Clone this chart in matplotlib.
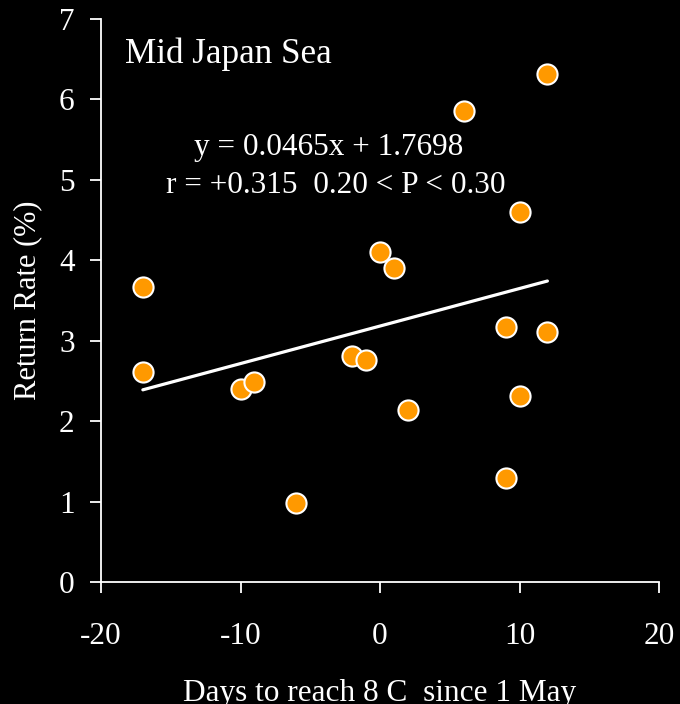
import numpy as np
import matplotlib
matplotlib.use("Agg")
import matplotlib.pyplot as plt

days = [-17, -17, -10, -9, -6, -2, -1, 0, 1, 2, 6, 9, 9, 10, 10, 12, 12]
rate = [3.67, 2.61, 2.40, 2.49, 0.98, 2.81, 2.76, 4.10, 3.91, 2.14, 5.86, 3.17, 1.29, 4.60, 2.31, 6.31, 3.11]
x_ticks = [-20, -10, 0, 10, 20]
y_ticks = [0, 1, 2, 3, 4, 5, 6, 7]
title = "Mid Japan Sea"
eq_text = "y = 0.0465x + 1.7698"
r_text = "r = +0.315  0.20 < P < 0.30"

plt.rcParams['font.family'] = ['Liberation Serif', 'DejaVu Serif']
plt.rcParams['axes.unicode_minus'] = False

fig = plt.figure(figsize=(6.8, 7.04), dpi=100, facecolor='black')
ax = fig.add_axes([101/680, 1-582/704, (659-101)/680, (582-19)/704])
ax.set_facecolor('black')

x = np.array(days, dtype=float)
y = np.array(rate, dtype=float)
slope, intercept = np.polyfit(x, y, 1)
xl = np.array([x.min(), x.max()])
ax.plot(xl, slope*xl + intercept, color='white', lw=2.3, zorder=2, solid_capstyle='round')

ax.scatter(x, y, s=14.5**2, c='#FF9900', edgecolors='white', linewidths=1.5, zorder=3)

ax.set_xlim(-20, 20)
ax.set_ylim(0, 7)
ax.set_xticks(x_ticks)
ax.set_yticks(y_ticks)
for s in ['top', 'right']:
    ax.spines[s].set_visible(False)
for s in ['left', 'bottom']:
    ax.spines[s].set_color('white')
    ax.spines[s].set_linewidth(1.3)
ax.tick_params(colors='white', labelsize=22.5, length=8, width=1.3, direction='out')
ax.tick_params(axis='x', pad=21)
ax.tick_params(axis='y', pad=11)

ax.set_ylabel("Return Rate (%)", color='white', fontsize=22, labelpad=12)
fig.text(380/680, 3/704, "Days to reach 8 C  since 1 May", color='white', fontsize=22.5,
         ha='center', va='baseline')

fig.text(125/680, 1-63/704, title, color='white', fontsize=25.3, va='baseline', ha='left')
ax.text(-3.7, 5.31, eq_text, color='white', fontsize=22.5, ha='center', va='baseline')
ax.text(-3.15, 4.84, r_text, color='white', fontsize=22.5, ha='center', va='baseline')

fig.savefig("out.png", dpi=100, facecolor='black')
